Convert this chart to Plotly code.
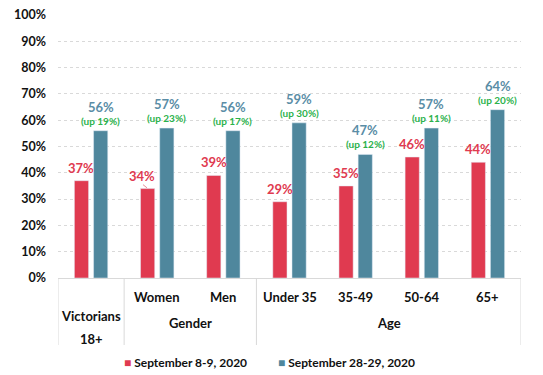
import plotly.graph_objects as go

categories = ["Victorians 18+", "Women", "Men", "Under 35", "35-49", "50-64", "65+"]
sub_labels = ["", "Women", "Men", "Under 35", "35-49", "50-64", "65+"]
group_labels = ["Gender", "Age"]
group_spans = [(1, 2), (3, 6)]
first_group_lines = ["Victorians", "18+"]
sep_values = [37, 34, 39, 29, 35, 46, 44]
late_sep_values = [56, 57, 56, 59, 47, 57, 64]
up_labels = ["(up 19%)", "(up 23%)", "(up 17%)", "(up 30%)", "(up 12%)", "(up 11%)", "(up 20%)"]
series_names = ["September 8-9, 2020", "September 28-29, 2020"]
y_ticks = [0, 10, 20, 30, 40, 50, 60, 70, 80, 90, 100]

RED = "#E03A50"
BLUE = "#4F879D"
LBLUE = "#5A8DA6"
GREEN = "#2BB24C"
FONT = "Lato"
TXT = "#111"

# page body has an 8px default margin; figure is sized to fit the window
PAGE = 8
L, R, T, B = 58 - PAGE, 22, 15 - PAGE, 97
PLOT_W = 543 - 58 - R
PLOT_H = 375 - PAGE - T - B

x = list(range(len(categories)))
fig = go.Figure()
fig.add_bar(x=x, y=sep_values, name=series_names[0], marker_color=RED, showlegend=False)
fig.add_bar(x=x, y=late_sep_values, name=series_names[1], marker_color=BLUE, showlegend=False)


def ann(**kw):
    kw["text"] = f"<b>{kw['text']}</b>"
    kw.setdefault("showarrow", False)
    fig.add_annotation(**kw)


def py(px):
    # pixel offset below the plot bottom (at 278) -> paper coordinate
    return -(px - 278) / PLOT_H


off = 0.145
for i in x:
    dx = -0.08 if i == 1 else 0
    ann(x=i - off + dx, y=sep_values[i], text=f"{sep_values[i]}%", yanchor="middle", yshift=13,
        font=dict(family=FONT, size=13, color=RED))
    ann(x=i + off, y=late_sep_values[i], text=up_labels[i], yanchor="middle", yshift=10,
        font=dict(family=FONT, size=10, color=GREEN))
    ann(x=i + off, y=late_sep_values[i], text=f"{late_sep_values[i]}%", yanchor="middle", yshift=24,
        font=dict(family=FONT, size=13, color=LBLUE))
    if sub_labels[i]:
        ann(x=i, y=py(297), xref="x", yref="paper", text=sub_labels[i], yanchor="middle",
            font=dict(family=FONT, size=13, color=TXT))

# leader line for Women red label
fig.add_shape(type="line", x0=1 - off - 0.07, x1=1 - off - 0.01, y0=sep_values[1] + 1.5, y1=sep_values[1] + 0.3,
              xref="x", yref="y", line=dict(color="#E88A96", width=1))

for (a, b), lab in zip(group_spans, group_labels):
    ann(x=(a + b) / 2, y=py(323), xref="x", yref="paper", text=lab, yanchor="middle",
        font=dict(family=FONT, size=13, color=TXT))
for line_text, yy in zip(first_group_lines, [py(316), py(339)]):
    ann(x=0, y=yy, xref="x", yref="paper", text=line_text, yanchor="middle",
        font=dict(family=FONT, size=13, color=TXT))

for pos in [-0.5, 0.5, 2.5, 6.5]:
    fig.add_shape(type="line", x0=pos, x1=pos, y0=0, y1=py(345), xref="x", yref="paper",
                  line=dict(color="#D9D9D9", width=1))

# legend drawn as annotations
for name, col, px in zip(series_names, [RED, BLUE], [122, 276]):
    fig.add_annotation(x=(px - 58) / PLOT_W, y=py(362), xref="paper", yref="paper", xanchor="left",
                       yanchor="middle", showarrow=False,
                       text=f"<span style='color:{col}'>■</span><b> {name}</b>",
                       font=dict(family=FONT, size=12, color=TXT))

fig.update_layout(
    width=543 - PAGE, height=375 - PAGE,
    margin=dict(l=L, r=R, t=T, b=B, autoexpand=False),
    plot_bgcolor="white", paper_bgcolor="white",
    barmode="group", bargap=0.42, bargroupgap=0.26,
    font=dict(family=FONT, color=TXT),
    showlegend=False,
    xaxis=dict(range=[-0.5, 6.5], showticklabels=False, showgrid=False, zeroline=False,
               showline=True, linecolor="#D9D9D9", linewidth=1, ticks="", automargin=False),
    yaxis=dict(range=[0, 100.01], tickvals=y_ticks, ticktext=[f"<b>{v}%</b>" for v in y_ticks],
               showgrid=True, gridcolor="#D9D9D9", griddash="dot", zeroline=False,
               tickfont=dict(family=FONT, size=12.5, color=TXT), ticklabelstandoff=11,
               ticklabeloverflow="allow",
               automargin=False, fixedrange=True),
)

fig.write_html("out.html")
